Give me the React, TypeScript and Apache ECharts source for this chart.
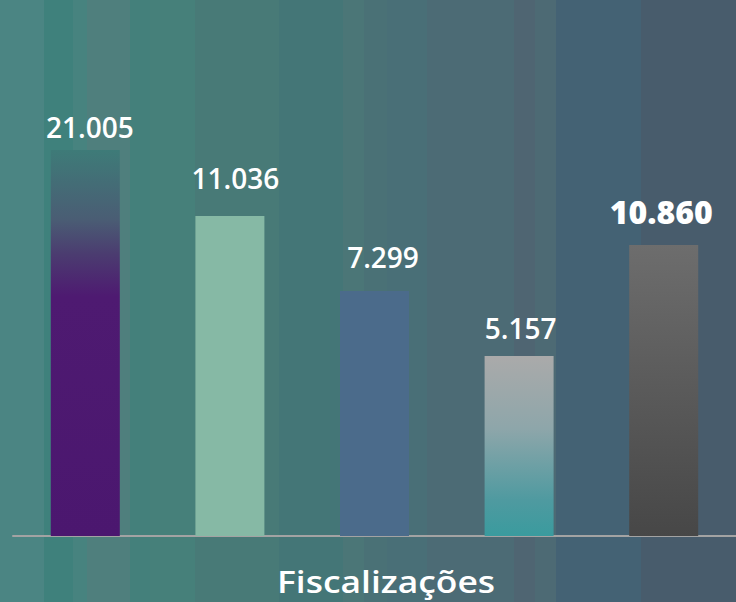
import React, { useEffect, useRef } from "react";
import * as echarts from "echarts";

const categories = ["A", "B", "C", "D", "E"];
// Reported values (shown as labels)
const labelValues = [21005, 11036, 7299, 5157, 10860];
// Bar lengths as drawn in the picture (relative, tallest = 100)
const barLengths = [100, 82.9, 63.5, 46.6, 75.4];
const axisTitle = "Fiscalizações";

const backgroundStripes: [number, number, string][] = [
  [0, 44, "#4b8583"],
  [44, 73, "#3f817c"],
  [73, 87, "#47837f"],
  [87, 130, "#4f7f7d"],
  [130, 150, "#44807b"],
  [150, 195, "#46807a"],
  [195, 279, "#487a77"],
  [279, 343, "#447677"],
  [343, 364, "#4b7677"],
  [364, 387, "#4a7176"],
  [387, 427, "#496f77"],
  [427, 514, "#4c6b75"],
  [514, 535, "#4f6572"],
  [535, 556, "#4d6a74"],
  [556, 641, "#446274"],
  [641, 736, "#485c6c"],
];

const lg = (stops: [number, string][]) =>
  new echarts.graphic.LinearGradient(
    0, 0, 0, 1,
    stops.map(([offset, color]) => ({ offset, color }))
  );

const barColors = [
  lg([
    [0, "#3e7b78"],
    [0.18, "#4a5d74"],
    [0.27, "#4b3c70"],
    [0.38, "#4e1a71"],
    [1, "#4b176f"],
  ]),
  "#86b9a5",
  "#4b6b8b",
  lg([
    [0, "#aaaaaa"],
    [0.4, "#8ea6aa"],
    [0.8, "#4f9aa0"],
    [1, "#3a9b9e"],
  ]),
  lg([
    [0, "#6d6d6d"],
    [1, "#474747"],
  ]),
];

const labelOffsets: [number, number][] = [
  [4.5, -9],
  [5.5, -24],
  [8.5, -19.5],
  [1.5, -14],
  [-2.5, -17.5],
];

const fmt = (v: number) => v.toLocaleString("pt-BR");

export default function App() {
  const ref = useRef<HTMLDivElement>(null);
  useEffect(() => {
    document.body.style.margin = "0";
    if (!ref.current) return;
    const chart = echarts.init(ref.current, undefined, { renderer: "svg" });
    const font = "'Open Sans', 'Noto Sans', sans-serif";
    chart.setOption({
      animation: false,
      backgroundColor: "#47727a",
      graphic: [
        ...backgroundStripes.map(([x0, x1, c]) => ({
          type: "rect",
          z: -10,
          silent: true,
          shape: { x: x0, y: 0, width: x1 - x0, height: 602 },
          style: { fill: c },
        })),
        {
          type: "text",
          x: 386,
          y: 582,
          scaleX: 1.18,
          z: 10,
          style: {
            text: axisTitle,
            fill: "#ffffff",
            font: `600 30px ${font}`,
            textAlign: "center",
            textVerticalAlign: "middle",
          },
        },
      ],
      grid: { left: 13, right: -2, top: 150, bottom: 66 },
      xAxis: {
        type: "category",
        data: categories,
        axisLine: { show: true, lineStyle: { color: "#a3a3a3", width: 2 } },
        axisTick: { show: false },
        axisLabel: { show: false },
      },
      yAxis: {
        type: "value",
        min: 0,
        max: 100,
        show: false,
        splitLine: { show: false },
      },
      series: [
        {
          type: "bar",
          barWidth: 69,
          data: barLengths.map((v, i) => ({
            value: v,
            itemStyle: { color: barColors[i] },
            label: {
              show: true,
              position: "top",
              distance: 0,
              offset: labelOffsets[i],
              formatter: () => fmt(labelValues[i]),
              color: "#ffffff",
              fontFamily: font,
              fontSize: i === 4 ? 32 : 28,
              fontWeight: i === 4 ? 800 : 600,
            },
          })),
        },
      ],
    });
    return () => chart.dispose();
  }, []);
  return <div ref={ref} style={{ width: 736, height: 602 }} />;
}
